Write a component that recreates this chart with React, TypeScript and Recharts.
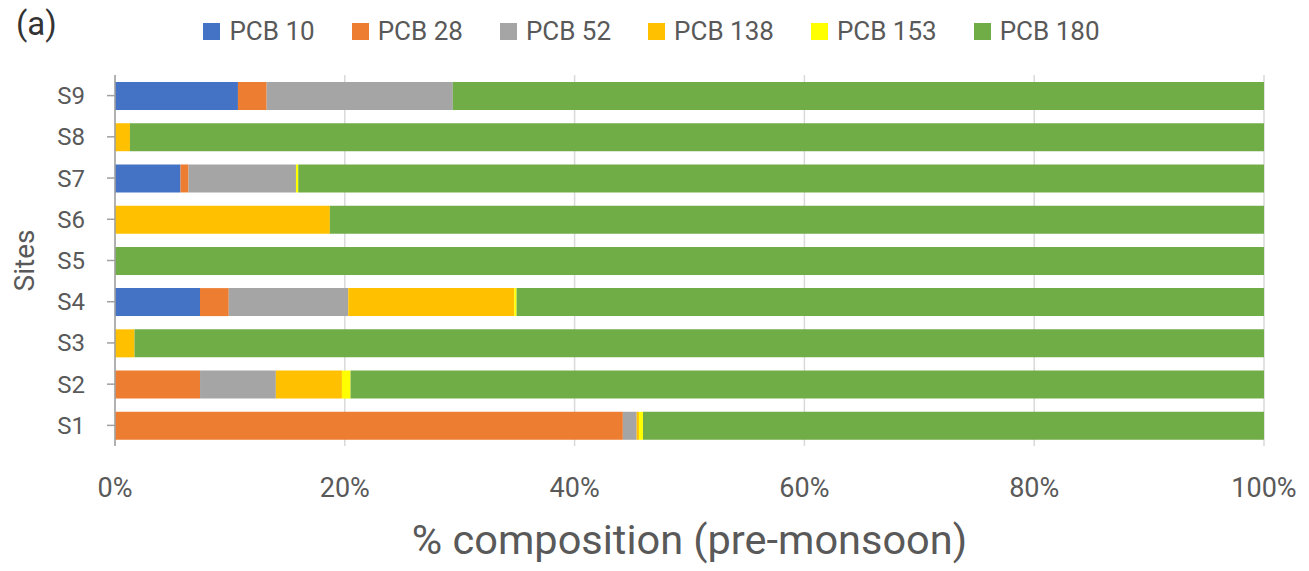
import { Bar, BarChart, CartesianGrid, Label, XAxis, YAxis } from "recharts"

const sites = ["S1", "S2", "S3", "S4", "S5", "S6", "S7", "S8", "S9"]

const pcb10 = [0, 0, 0, 7.4, 0, 0, 5.7, 0, 10.7]
const pcb28 = [44.2, 7.4, 0, 2.5, 0, 0, 0.7, 0, 2.5]
const pcb52 = [1.2, 6.6, 0, 10.4, 0, 0, 9.35, 0, 16.2]
const pcb138 = [0.2, 5.75, 1.7, 14.45, 0, 18.7, 0, 1.3, 0]
const pcb153 = [0.35, 0.75, 0, 0.2, 0, 0, 0.2, 0, 0]
const pcb180 = [54.05, 79.5, 98.3, 65.05, 100, 81.3, 84.05, 98.7, 70.6]

const xTicks = [0, 20, 40, 60, 80, 100]

const series = [
  { key: "pcb10", name: "PCB 10", values: pcb10, color: "#4472C4" },
  { key: "pcb28", name: "PCB 28", values: pcb28, color: "#ED7D31" },
  { key: "pcb52", name: "PCB 52", values: pcb52, color: "#A5A5A5" },
  { key: "pcb138", name: "PCB 138", values: pcb138, color: "#FFC000" },
  { key: "pcb153", name: "PCB 153", values: pcb153, color: "#FFFF00" },
  { key: "pcb180", name: "PCB 180", values: pcb180, color: "#70AD47" },
]

const data = sites.map((site, i) => {
  const row: Record<string, string | number> = { site }
  series.forEach((s) => {
    row[s.key] = s.values[i]
  })
  return row
})

const font = "Roboto, sans-serif"
const textColor = "#595959"

export default function App() {
  return (
    <div style={{ position: "absolute", left: 0, top: 0, width: 1309, height: 571, background: "#fff", fontFamily: font }}>
      <div style={{ position: "absolute", left: 16, top: 4, fontSize: 33, color: "#333" }}>(a)</div>
      <div
        style={{
          position: "absolute",
          left: 0,
          top: 14,
          width: 1303,
          display: "flex",
          justifyContent: "center",
          gap: 37,
          fontSize: 26,
          color: textColor,
          lineHeight: "34px",
        }}
      >
        {series.map((s) => (
          <div key={s.key} style={{ display: "flex", alignItems: "center" }}>
            <span style={{ width: 17, height: 17, background: s.color, marginRight: 9, display: "inline-block" }} />
            <span>{s.name}</span>
          </div>
        ))}
      </div>
      <BarChart
        width={1309}
        height={571}
        data={data}
        layout="vertical"
        margin={{ top: 75, right: 45, bottom: 0, left: 0 }}
        barSize={28}
      >
        <CartesianGrid horizontal={false} stroke="#D9D9D9" strokeWidth={1.5} />
        <XAxis
          type="number"
          domain={[0, 100]}
          ticks={xTicks}
          tickFormatter={(v) => `${v}%`}
          axisLine={false}
          tickLine={false}
          tickSize={0}
          tickMargin={32}
          height={125}
          interval={0}
          tick={{ fill: textColor, fontSize: 27, fontFamily: font }}
        >
          <Label
            value="% composition (pre-monsoon)"
            position="insideBottom"
            offset={17}
            style={{ fill: textColor, fontSize: 41.5, fontFamily: font }}
          />
        </XAxis>
        <YAxis
          type="category"
          dataKey="site"
          reversed
          width={115}
          stroke="#A0A0A0"
          strokeWidth={1.5}
          tickSize={8}
          tickMargin={22}
          tick={{ fill: textColor, fontSize: 24, fontFamily: font }}
        >
          <Label
            value="Sites"
            angle={-90}
            position="insideLeft"
            offset={24}
            style={{ fill: textColor, fontSize: 28, fontFamily: font, textAnchor: "middle" }}
          />
        </YAxis>
        {series.map((s) => (
          <Bar key={s.key} dataKey={s.key} name={s.name} stackId="a" fill={s.color} isAnimationActive={false} />
        ))}
      </BarChart>
    </div>
  )
}
